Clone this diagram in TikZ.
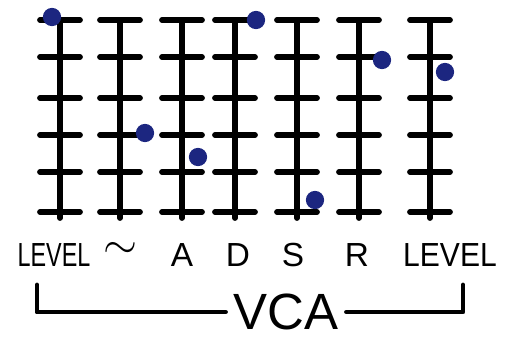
\documentclass[tikz,border=0pt]{standalone}
\usepackage{fontspec}
\setmainfont{Liberation Sans}
\definecolor{inkblue}{RGB}{28,38,128}
\tikzset{
  lbl/.style={inner sep=0pt, font=\fontsize{19}{19}\selectfont},
  knob/.style={fill=inkblue, draw=none}
}
\begin{document}
\begin{tikzpicture}[x=0.02cm, y=-0.02cm, line width=3.3pt, line cap=round, line join=round]
    \useasboundingbox (0,0) rectangle (525,339);

    % Cursori con tacche
    \foreach \x in {60,120,182,235,297,359,430} {
        \draw (\x,20) -- (\x,218);
        \foreach \y in {20,57,98,135,172,212}
            \draw (\x-20,\y) -- (\x+20,\y);
    }

    % Manopole
    \foreach \x/\y in {52/17,145/133,198/157,256/20,315/200,382/60,445/72}
        \path[knob] (\x,\y) circle[radius=5.2pt];

    % Etichette
    \node[lbl] (lvlin) at (54,255) {\scalebox{0.7}[1]{LEVEL}};
    \node[lbl, font=\fontsize{34}{34}\selectfont] (wave) at (120,250) {$\sim$};
    \node[lbl] (att) at (182,255) {A};
    \node[lbl] (dec) at (238,255) {D};
    \node[lbl] (sus) at (293,255) {S};
    \node[lbl] (rel) at (357,255) {R};
    \node[lbl] (lvlout) at (450,255) {\scalebox{0.9}[1]{LEVEL}};

    % Parentesi VCA
    \node[lbl, font=\fontsize{29}{29}\selectfont] (vca) at (286,312) {VCA};
    \coordinate (bl) at (37,285);
    \coordinate (br) at (463,285);
    \draw[line width=2.8pt] (bl) |- ([xshift=-3pt]vca.west);
    \draw[line width=2.8pt] ([xshift=3pt]vca.east) -| (br);
\end{tikzpicture}
\end{document}
